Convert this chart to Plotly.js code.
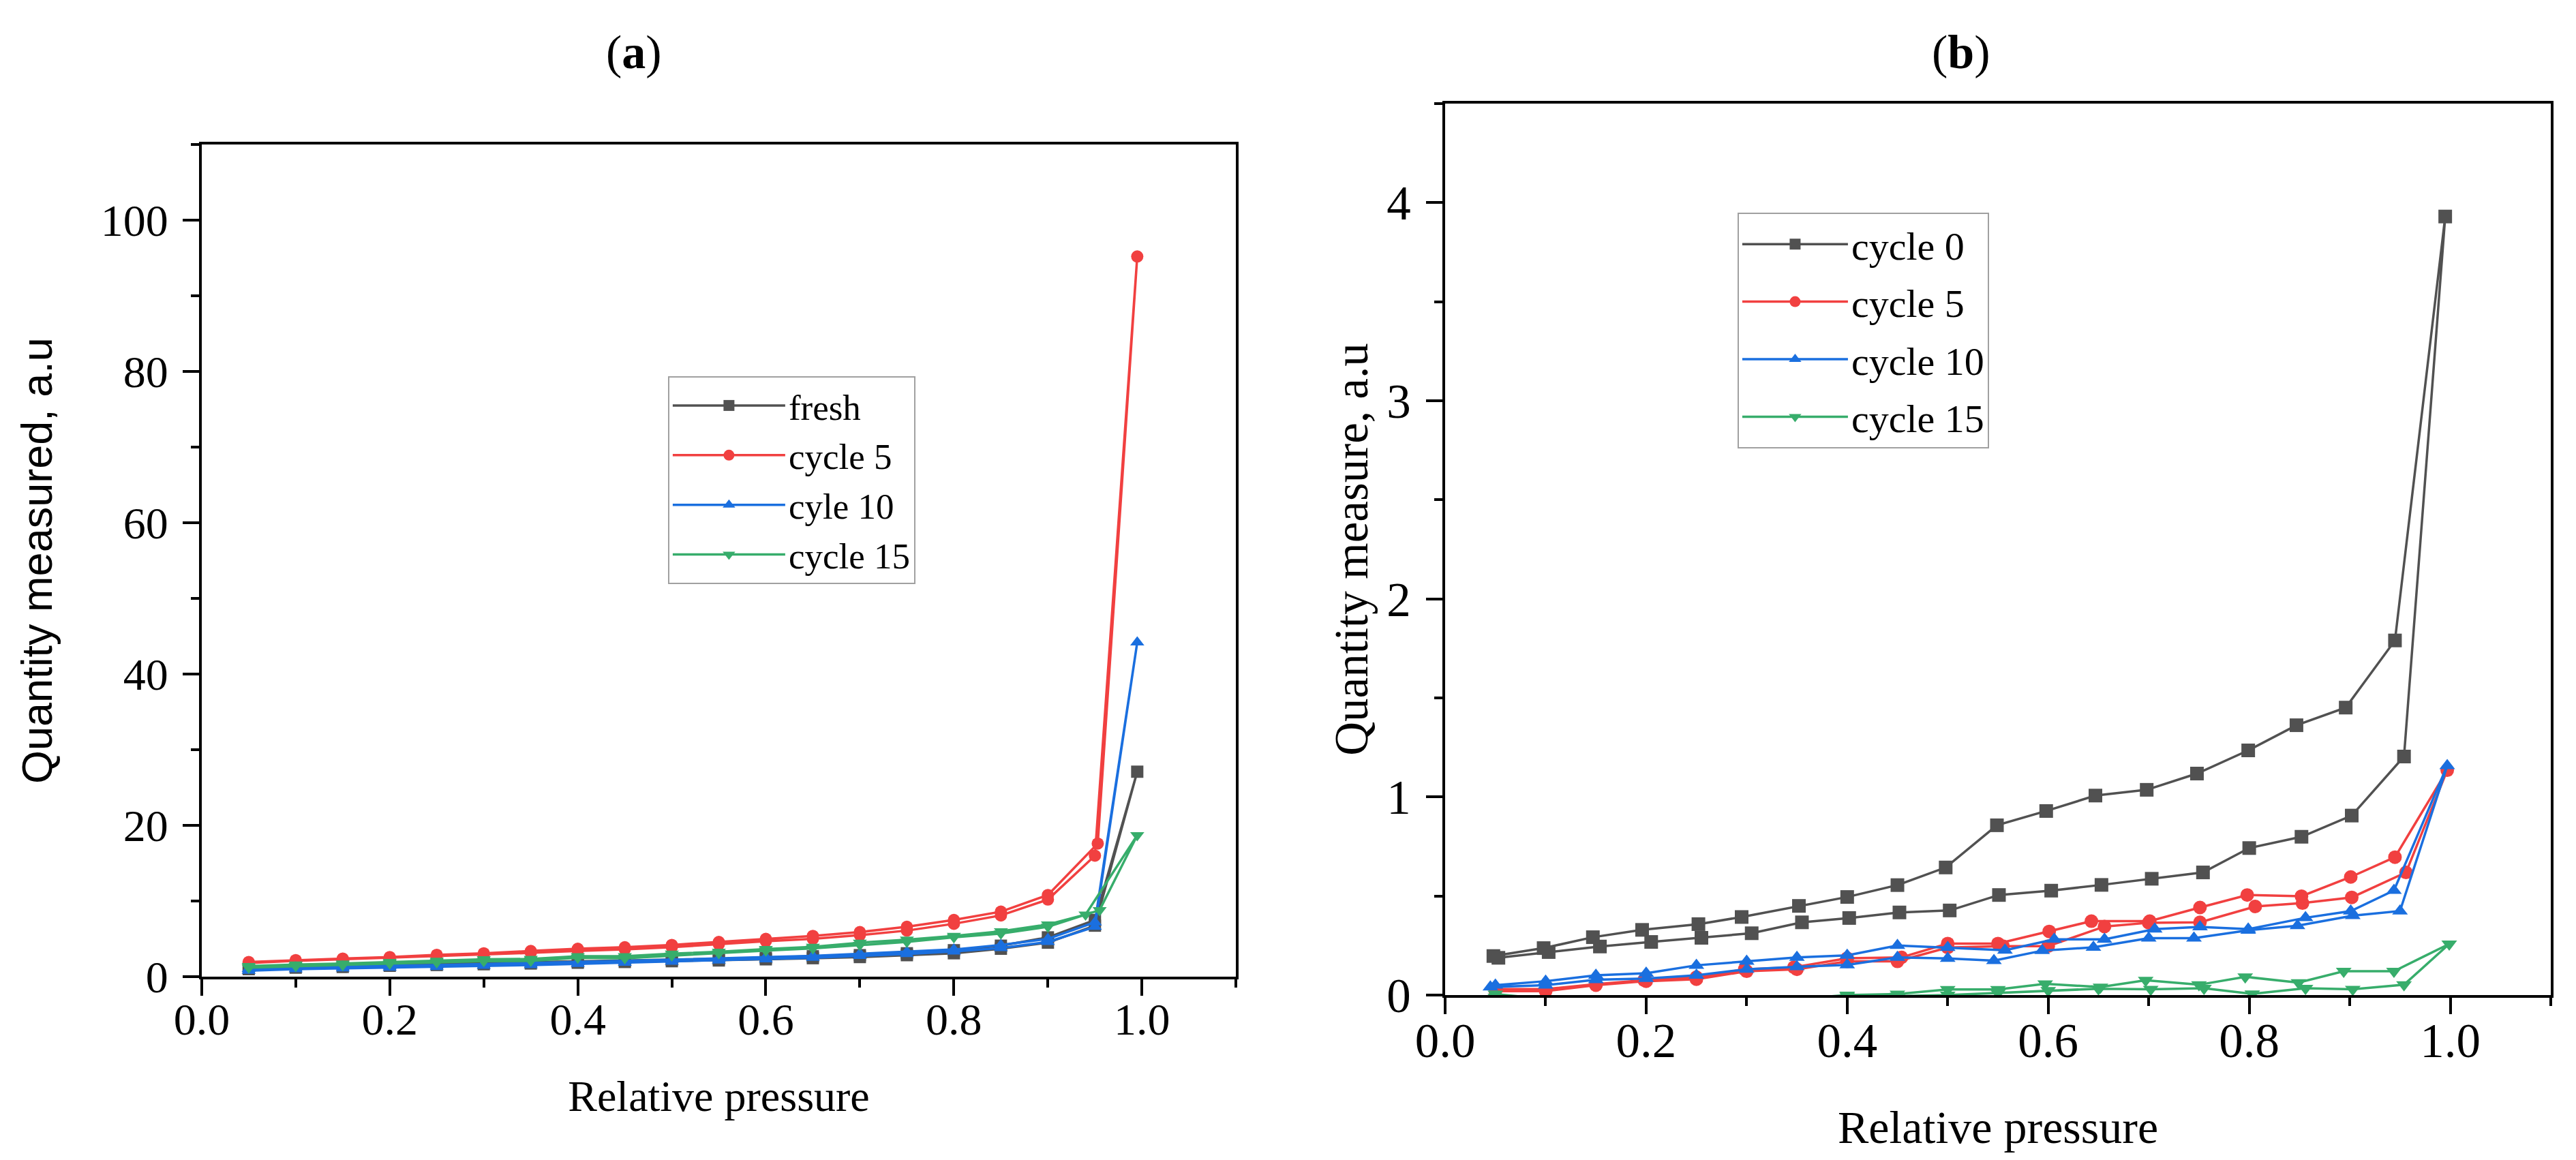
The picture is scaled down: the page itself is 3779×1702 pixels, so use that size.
<!DOCTYPE html>
<html>
<head>
<meta charset="utf-8">
<script src="https://cdn.plot.ly/plotly-3.0.1.min.js"></script>
<style>
  html, body { margin: 0; padding: 0; background: #fff; }
  #chart { width: 3779px; height: 1702px; }
</style>
</head>
<body>
<div id="chart"></div>
<script>
// ---------- panel (a): adsorption branch then desorption branch ----------
let freshAdsX = [0.05,0.1,0.15,0.2,0.25,0.3,0.35,0.4,0.45,0.5,0.55,0.6,0.65,0.7,0.75,0.8,0.85,0.9,0.95,0.995];
let freshAdsY = [1.0,1.2,1.3,1.45,1.55,1.65,1.75,1.85,1.95,2.05,2.15,2.3,2.45,2.6,2.85,3.1,3.7,4.5,6.75,27.1];
let freshDesX = [0.95,0.9,0.85,0.8,0.75,0.7,0.65,0.6,0.55,0.5,0.45,0.4,0.35,0.3,0.25,0.2,0.15,0.1,0.05];
let freshDesY = [7.5,5.2,4.1,3.5,3.1,2.85,2.7,2.5,2.35,2.25,2.15,2.0,1.9,1.8,1.7,1.6,1.5,1.4,1.2];

let a5AdsX = [0.05,0.1,0.15,0.2,0.25,0.3,0.35,0.4,0.45,0.5,0.55,0.6,0.65,0.7,0.75,0.8,0.85,0.9,0.95,0.995];
let a5AdsY = [1.8,2.1,2.3,2.5,2.75,2.9,3.15,3.4,3.6,3.9,4.3,4.7,5.0,5.5,6.1,7.0,8.1,10.2,16.0,95.2];
let a5DesX = [0.953,0.9,0.85,0.8,0.75,0.7,0.65,0.6,0.55,0.5,0.45,0.4,0.35,0.3,0.25,0.2,0.15,0.1,0.05];
let a5DesY = [17.6,10.8,8.6,7.5,6.6,5.9,5.4,5.0,4.6,4.2,3.9,3.7,3.4,3.1,2.9,2.6,2.4,2.2,1.95];

let a10AdsX = [0.05,0.1,0.15,0.2,0.25,0.3,0.35,0.4,0.45,0.5,0.55,0.6,0.65,0.7,0.75,0.8,0.85,0.9,0.95,0.995];
let a10AdsY = [0.8,1.0,1.1,1.2,1.3,1.45,1.55,1.7,1.85,2.0,2.15,2.3,2.5,2.75,3.0,3.35,3.8,4.6,6.6,44.2];
let a10DesX = [0.95,0.9,0.85,0.8,0.75,0.7,0.65,0.6,0.55,0.5,0.45,0.4,0.35,0.3,0.25,0.2,0.15,0.1,0.05];
let a10DesY = [7.2,5.0,4.2,3.6,3.3,3.05,2.75,2.6,2.4,2.25,2.1,1.95,1.8,1.7,1.55,1.45,1.35,1.25,1.05];

let a15AdsX = [0.05,0.1,0.15,0.2,0.25,0.3,0.35,0.4,0.45,0.5,0.55,0.6,0.65,0.7,0.75,0.8,0.85,0.9,0.955,0.995];
let a15AdsY = [1.2,1.4,1.55,1.75,1.9,2.05,2.1,2.5,2.45,2.8,3.1,3.45,3.75,4.2,4.6,5.2,5.7,6.6,8.8,18.7];
let a15DesX = [0.94,0.9,0.85,0.8,0.75,0.7,0.65,0.6,0.55,0.5,0.45,0.4,0.35,0.3,0.25,0.2,0.15,0.1,0.05];
let a15DesY = [8.2,6.9,6.0,5.4,4.9,4.5,3.95,3.65,3.3,3.05,2.7,2.7,2.35,2.3,2.1,1.95,1.75,1.6,1.4];

// ---------- panel (b) ----------
let b0AdsX = [0.053,0.103,0.154,0.205,0.255,0.305,0.355,0.402,0.452,0.502,0.551,0.603,0.653,0.703,0.754,0.8,0.852,0.902,0.954,0.995];
let b0AdsY = [0.188,0.217,0.245,0.268,0.289,0.312,0.367,0.389,0.417,0.427,0.505,0.527,0.556,0.587,0.619,0.742,0.799,0.906,1.204,3.93];
let b0DesX = [0.945,0.896,0.847,0.799,0.748,0.698,0.647,0.598,0.549,0.498,0.45,0.4,0.352,0.295,0.252,0.196,0.147,0.098,0.048];
let b0DesY = [1.79,1.451,1.362,1.235,1.118,1.036,1.007,0.929,0.857,0.644,0.555,0.495,0.45,0.394,0.358,0.329,0.292,0.237,0.197];

let b5AdsX = [0.05,0.1,0.15,0.2,0.25,0.3,0.35,0.4,0.45,0.5,0.555,0.6,0.656,0.7,0.751,0.806,0.853,0.902,0.956,0.997];
let b5AdsY = [0.02,0.02,0.05,0.07,0.08,0.12,0.13,0.17,0.17,0.24,0.247,0.247,0.346,0.365,0.367,0.447,0.464,0.493,0.619,1.135];
let b5DesX = [0.945,0.901,0.852,0.798,0.751,0.701,0.643,0.601,0.55,0.5,0.454,0.4,0.347,0.298,0.25,0.198,0.15,0.1,0.05];
let b5DesY = [0.696,0.596,0.499,0.505,0.442,0.373,0.373,0.321,0.26,0.26,0.19,0.186,0.14,0.13,0.09,0.075,0.055,0.03,0.03];

let b10AdsX = [0.045,0.1,0.15,0.2,0.25,0.3,0.35,0.4,0.45,0.5,0.546,0.594,0.645,0.7,0.745,0.799,0.848,0.903,0.95,0.997];
let b10AdsY = [0.04,0.05,0.077,0.083,0.1,0.13,0.143,0.152,0.19,0.185,0.174,0.224,0.241,0.287,0.287,0.327,0.35,0.401,0.424,1.158];
let b10DesX = [0.944,0.901,0.856,0.799,0.751,0.706,0.656,0.606,0.557,0.5,0.45,0.4,0.35,0.3,0.25,0.2,0.15,0.1,0.05];
let b10DesY = [0.528,0.424,0.39,0.333,0.344,0.333,0.281,0.281,0.226,0.24,0.25,0.2,0.19,0.17,0.15,0.11,0.1,0.07,0.05];

let b15AdsX = [0.05,0.1,0.15,0.2,0.25,0.3,0.35,0.4,0.45,0.5,0.55,0.6,0.65,0.702,0.755,0.803,0.856,0.903,0.954,0.999];
let b15AdsY = [-0.01,-0.03,-0.03,-0.03,-0.03,-0.02,-0.02,-0.005,-0.005,0.0,0.01,0.023,0.032,0.029,0.034,0.006,0.034,0.029,0.052,0.258];
let b15DesX = [0.944,0.894,0.849,0.796,0.75,0.697,0.652,0.597,0.55,0.5,0.45,0.4,0.35,0.3,0.25,0.2,0.15,0.1,0.05];
let b15DesY = [0.12,0.12,0.063,0.092,0.052,0.075,0.04,0.057,0.028,0.028,0.005,0.0,-0.02,-0.02,-0.02,-0.02,-0.02,-0.02,0.005];

let namesA = ['fresh', 'cycle 5', 'cyle 10', 'cycle 15'];
let namesB = ['cycle 0', 'cycle 5', 'cycle 10', 'cycle 15'];
let colors = ['#515151', '#F14040', '#1A6FDF', '#37AD6B'];
let symbols = ['square', 'circle', 'triangle-up', 'triangle-down'];

let serif = 'Liberation Serif, Times New Roman, serif';
let sans = 'Liberation Sans, Arial, sans-serif';

function makeTrace(adsX, adsY, desX, desY, i, names, xa, ya, leg, msize) {
  return {
    x: adsX.concat(desX),
    y: adsY.concat(desY),
    name: names[i],
    type: 'scatter',
    mode: 'lines+markers',
    xaxis: xa,
    yaxis: ya,
    legend: leg,
    legendgroup: leg + i,
    line: { color: colors[i], width: 3.5 },
    marker: { color: colors[i], symbol: symbols[i], size: msize, line: { width: 0 } }
  };
}

let data = [
  makeTrace(freshAdsX, freshAdsY, freshDesX, freshDesY, 0, namesA, 'x', 'y', 'legend', 18),
  makeTrace(a5AdsX, a5AdsY, a5DesX, a5DesY, 1, namesA, 'x', 'y', 'legend', 18),
  makeTrace(a10AdsX, a10AdsY, a10DesX, a10DesY, 2, namesA, 'x', 'y', 'legend', 18),
  makeTrace(a15AdsX, a15AdsY, a15DesX, a15DesY, 3, namesA, 'x', 'y', 'legend', 18),
  makeTrace(b0AdsX, b0AdsY, b0DesX, b0DesY, 0, namesB, 'x2', 'y2', 'legend2', 20),
  makeTrace(b5AdsX, b5AdsY, b5DesX, b5DesY, 1, namesB, 'x2', 'y2', 'legend2', 20),
  makeTrace(b10AdsX, b10AdsY, b10DesX, b10DesY, 2, namesB, 'x2', 'y2', 'legend2', 20),
  makeTrace(b15AdsX, b15AdsY, b15DesX, b15DesY, 3, namesB, 'x2', 'y2', 'legend2', 20)
];

function axisStyle(fontSize) {
  return {
    showline: true, mirror: true, linecolor: '#000', linewidth: 4,
    showgrid: false, zeroline: false,
    ticks: 'outside', ticklen: 24, tickwidth: 4, tickcolor: '#000',
    tickfont: { family: serif, size: fontSize, color: '#000' }
  };
}

let xa = Object.assign(axisStyle(66), {
  domain: [0.0783, 0.4798], anchor: 'y', range: [0, 1.1],
  tick0: 0, dtick: 0.2, tickformat: '.1f', ticklabelstandoff: -22,
  minor: { dtick: 0.1, ticks: 'outside', ticklen: 12, tickwidth: 4, tickcolor: '#000' },
  title: { text: 'Relative pressure', font: { family: serif, size: 64, color: '#000' }, standoff: 55 }
});
let ya = Object.assign(axisStyle(66), {
  domain: [0.158, 0.8754], anchor: 'x', range: [0, 110],
  tick0: 0, dtick: 20, ticklabelstandoff: 8,
  minor: { dtick: 10, ticks: 'outside', ticklen: 12, tickwidth: 4, tickcolor: '#000' },
  title: { text: 'Quantity measured, a.u', font: { family: sans, size: 63, color: '#000' }, standoff: 52 }
});
let xb = Object.assign(axisStyle(71), {
  domain: [0.561, 0.9902], anchor: 'y2', range: [0, 1.1],
  tick0: 0, dtick: 0.2, tickformat: '.1f', ticklabelstandoff: -22,
  minor: { dtick: 0.1, ticks: 'outside', ticklen: 12, tickwidth: 4, tickcolor: '#000' },
  title: { text: 'Relative pressure', font: { family: serif, size: 68, color: '#000' }, standoff: 65 }
});
let yb = Object.assign(axisStyle(71), {
  domain: [0.1422, 0.9107], anchor: 'x2', range: [0, 4.5],
  tick0: 0, dtick: 1, ticklabelstandoff: 8,
  minor: { dtick: 0.5, ticks: 'outside', ticklen: 12, tickwidth: 4, tickcolor: '#000' },
  title: { text: 'Quantity measure, a.u', font: { family: serif, size: 69, color: '#000' }, standoff: 6 }
});

let layout = {
  width: 3779,
  height: 1702,
  margin: { l: 0, r: 0, t: 0, b: 0 },
  paper_bgcolor: '#fff',
  plot_bgcolor: '#fff',
  showlegend: true,
  xaxis: xa,
  yaxis: ya,
  xaxis2: xb,
  yaxis2: yb,
  legend: {
    x: 0.2593, y: 0.6757, xanchor: 'left', yanchor: 'top',
    bgcolor: '#fff', bordercolor: '#a0a0a0', borderwidth: 2,
    font: { family: serif, size: 53, color: '#000' },
    itemwidth: 165, traceorder: 'grouped', tracegroupgap: 1
  },
  legend2: {
    x: 0.6745, y: 0.8167, xanchor: 'left', yanchor: 'top',
    bgcolor: '#fff', bordercolor: '#a0a0a0', borderwidth: 2,
    font: { family: serif, size: 58, color: '#000' },
    itemwidth: 155, traceorder: 'grouped', tracegroupgap: 6
  },
  annotations: [
    { text: '(<b>a</b>)', x: 930 / 3779, y: 1 - 76 / 1702, xref: 'paper', yref: 'paper',
      xanchor: 'center', yanchor: 'middle', showarrow: false,
      font: { family: serif, size: 70, color: '#000' } },
    { text: '(<b>b</b>)', x: 2877 / 3779, y: 1 - 76 / 1702, xref: 'paper', yref: 'paper',
      xanchor: 'center', yanchor: 'middle', showarrow: false,
      font: { family: serif, size: 70, color: '#000' } }
  ]
};

Plotly.newPlot('chart', data, layout, { staticPlot: true });
</script>
</body>
</html>
